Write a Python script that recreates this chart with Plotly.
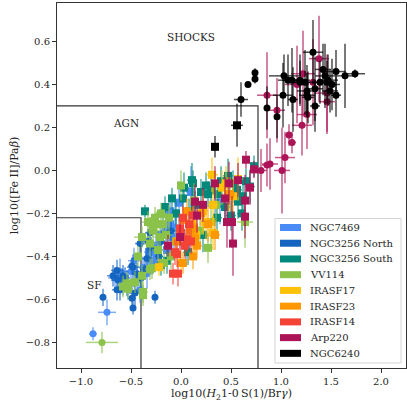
import plotly.graph_objects as go

# ---------------- data: (x, y, xerr, yerr) ----------------
NGC7469_PT = [(-0.88, -0.76, 0.04, 0.03), (-0.74, -0.66, 0.09, 0.06), (-0.61, -0.47, 0.08, 0.06),
              (-0.53, -0.54, 0.07, 0.06), (-0.44, -0.51, 0.06, 0.07), (-0.41, -0.555, 0.05, 0.06),
              (-0.34, -0.48, 0.06, 0.07), (-0.66, -0.50, 0.07, 0.05), (-0.58, -0.52, 0.06, 0.06),
              (-0.50, -0.47, 0.05, 0.05), (-0.30, -0.42, 0.05, 0.06), (-0.38, -0.45, 0.06, 0.05),
              (-0.47, -0.42, 0.06, 0.06)]
NGC7469_SQ = [(-0.28, -0.42, 0.05, 0.06), (-0.24, -0.385, 0.05, 0.06), (-0.14, -0.37, 0.06, 0.06),
              (-0.08, -0.31, 0.05, 0.06), (-0.11, -0.19, 0.06, 0.06), (-0.18, -0.20, 0.05, 0.05),
              (-0.06, -0.20, 0.05, 0.06), (-0.11, -0.25, 0.05, 0.05), (0.34, -0.16, 0.05, 0.10),
              (0.39, -0.15, 0.05, 0.10), (-0.20, -0.30, 0.05, 0.06), (-0.15, -0.28, 0.06, 0.06),
              (-0.05, -0.27, 0.05, 0.08), (0.05, -0.35, 0.05, 0.08), (0.10, -0.10, 0.05, 0.12),
              (-0.02, -0.15, 0.05, 0.10), (-0.25, -0.35, 0.05, 0.06), (-0.32, -0.38, 0.05, 0.06)]
NGC3256N_PT = [(-0.78, -0.59, 0.03, 0.04), (-0.48, -0.64, 0.03, 0.03), (-0.49, -0.445, 0.04, 0.04),
               (-0.68, -0.49, 0.06, 0.05), (-0.63, -0.51, 0.07, 0.05), (-0.58, -0.49, 0.06, 0.05),
               (-0.61, -0.555, 0.06, 0.05), (-0.46, -0.57, 0.06, 0.06), (-0.54, -0.525, 0.07, 0.06),
               (-0.26, -0.59, 0.03, 0.03), (-0.64, -0.465, 0.06, 0.05), (-0.33, -0.33, 0.06, 0.06),
               (-0.48, -0.45, 0.06, 0.06), (-0.34, -0.41, 0.05, 0.05), (-0.56, -0.50, 0.05, 0.05),
               (-0.40, -0.50, 0.05, 0.06), (-0.36, -0.46, 0.05, 0.05), (-0.44, -0.48, 0.05, 0.05),
               (-0.49, -0.595, 0.04, 0.05), (-0.41, -0.34, 0.05, 0.05), (-0.31, -0.29, 0.05, 0.05),
               (-0.20, -0.33, 0.04, 0.05), (-0.10, -0.28, 0.05, 0.06), (-0.30, -0.36, 0.05, 0.05),
               (-0.22, -0.40, 0.04, 0.05), (-0.64, -0.555, 0.05, 0.05)]
NGC3256S_SQ = [(-0.36, -0.19, 0.03, 0.03), (0.11, -0.045, 0.05, 0.08), (0.12, -0.06, 0.04, 0.06),
               (0.47, -0.025, 0.05, 0.08), (0.20, -0.10, 0.04, 0.06), (0.27, -0.11, 0.05, 0.06),
               (0.37, -0.11, 0.05, 0.06), (0.56, -0.09, 0.05, 0.06), (0.69, -0.075, 0.05, 0.08),
               (-0.16, -0.17, 0.04, 0.05), (0.02, -0.13, 0.04, 0.06), (-0.09, -0.13, 0.04, 0.05),
               (0.44, -0.17, 0.05, 0.07), (0.57, -0.145, 0.05, 0.08), (0.61, -0.20, 0.05, 0.08),
               (0.36, -0.22, 0.05, 0.08), (0.22, -0.30, 0.05, 0.08), (0.73, 0.02, 0.04, 0.05),
               (-0.14, -0.42, 0.04, 0.06), (0.07, -0.38, 0.05, 0.06), (0.25, -0.07, 0.04, 0.06),
               (0.52, -0.06, 0.04, 0.06), (0.62, -0.12, 0.04, 0.07), (0.14, -0.16, 0.05, 0.06),
               (-0.05, -0.20, 0.04, 0.06), (0.03, -0.08, 0.05, 0.07), (0.30, -0.09, 0.04, 0.06),
               (0.40, -0.05, 0.05, 0.07), (-0.20, -0.44, 0.04, 0.05), (0.50, -0.21, 0.05, 0.07),
               (0.08, -0.19, 0.04, 0.06), (0.65, -0.05, 0.04, 0.06)]
VV114_PT = [(-0.79, -0.80, 0.16, 0.05)]
VV114_SQ = [(0.00, -0.07, 0.04, 0.07), (-0.24, -0.25, 0.06, 0.06), (-0.18, -0.25, 0.06, 0.06),
            (-0.28, -0.28, 0.06, 0.06), (-0.21, -0.31, 0.06, 0.06), (0.19, -0.28, 0.05, 0.07),
            (0.27, -0.36, 0.05, 0.07), (0.64, -0.24, 0.08, 0.12), (-0.39, -0.31, 0.08, 0.05),
            (-0.28, -0.26, 0.06, 0.05), (-0.31, -0.34, 0.06, 0.06), (-0.23, -0.37, 0.06, 0.06),
            (-0.43, -0.40, 0.04, 0.05), (-0.29, -0.455, 0.05, 0.05), (-0.39, -0.49, 0.04, 0.05),
            (-0.54, -0.525, 0.05, 0.05), (-0.46, -0.52, 0.05, 0.05), (-0.58, -0.54, 0.04, 0.05),
            (-0.53, -0.55, 0.05, 0.05), (-0.38, -0.565, 0.05, 0.05), (-0.38, -0.58, 0.04, 0.05),
            (-0.31, -0.46, 0.05, 0.05), (-0.15, -0.30, 0.06, 0.06), (-0.12, -0.22, 0.06, 0.06),
            (-0.20, -0.20, 0.06, 0.05), (-0.26, -0.22, 0.06, 0.05), (-0.33, -0.24, 0.06, 0.05),
            (-0.10, -0.40, 0.05, 0.06), (-0.17, -0.43, 0.05, 0.05), (0.30, -0.24, 0.05, 0.10),
            (0.35, -0.16, 0.05, 0.08), (-0.05, -0.33, 0.05, 0.06), (0.13, -0.14, 0.05, 0.08)]
IRASF17_SQ = [(0.31, -0.02, 0.06, 0.08), (0.57, -0.04, 0.05, 0.10), (0.41, -0.08, 0.05, 0.08),
              (0.47, -0.11, 0.04, 0.08), (0.32, -0.16, 0.05, 0.10), (0.22, -0.19, 0.05, 0.10),
              (0.12, -0.25, 0.05, 0.08), (0.32, -0.29, 0.04, 0.08), (-0.22, -0.45, 0.03, 0.04),
              (0.00, -0.43, 0.04, 0.06), (0.45, -0.06, 0.05, 0.08), (0.52, -0.12, 0.04, 0.08),
              (0.15, -0.30, 0.04, 0.08), (0.25, -0.24, 0.05, 0.08)]
IRASF23_SQ = [(0.02, -0.23, 0.05, 0.06), (0.09, -0.28, 0.05, 0.07), (0.14, -0.315, 0.05, 0.07),
              (-0.04, -0.33, 0.05, 0.06), (0.34, -0.30, 0.05, 0.07), (0.49, -0.11, 0.05, 0.08),
              (0.16, -0.35, 0.05, 0.06), (0.02, -0.43, 0.04, 0.05), (0.13, -0.27, 0.05, 0.07),
              (0.20, -0.20, 0.05, 0.06), (0.27, -0.25, 0.05, 0.08), (0.06, -0.19, 0.05, 0.06),
              (0.12, -0.40, 0.04, 0.06)]
IRASF14_SQ = [(0.02, -0.22, 0.04, 0.06), (0.12, -0.21, 0.04, 0.06), (-0.01, -0.27, 0.04, 0.06),
              (0.06, -0.32, 0.04, 0.06), (-0.08, -0.48, 0.04, 0.05), (-0.04, -0.39, 0.04, 0.06),
              (-0.06, -0.38, 0.04, 0.06), (0.04, -0.35, 0.04, 0.06), (0.00, -0.29, 0.04, 0.06),
              (-0.03, -0.48, 0.04, 0.06), (0.08, -0.25, 0.04, 0.06), (0.10, -0.33, 0.04, 0.06)]
ARP220_SQ = [(0.65, 0.05, 0.03, 0.04), (0.73, 0.005, 0.03, 0.04), (0.34, -0.06, 0.04, 0.08),
             (0.48, -0.06, 0.04, 0.10), (0.57, -0.045, 0.04, 0.08), (0.69, -0.08, 0.03, 0.08),
             (0.14, -0.145, 0.04, 0.08), (0.22, -0.16, 0.04, 0.08), (0.44, -0.13, 0.04, 0.10),
             (0.64, -0.14, 0.04, 0.12), (0.64, -0.215, 0.04, 0.10), (0.16, -0.21, 0.04, 0.08),
             (0.46, -0.24, 0.04, 0.12), (0.51, -0.24, 0.04, 0.12), (0.52, -0.34, 0.04, 0.15),
             (-0.01, -0.31, 0.04, 0.06), (-0.13, -0.35, 0.03, 0.05)]
ARP220_PT = [(0.80, 0.00, 0.06, 0.10), (0.86, 0.025, 0.05, 0.10), (0.89, 0.03, 0.08, 0.12),
             (1.01, 0.00, 0.08, 0.20), (1.04, 0.06, 0.10, 0.12), (1.08, 0.165, 0.04, 0.05),
             (1.11, 0.13, 0.04, 0.05), (1.21, 0.21, 0.10, 0.14), (1.26, 0.26, 0.10, 0.16),
             (0.86, 0.35, 0.10, 0.20), (0.96, 0.28, 0.08, 0.15), (1.38, 0.52, 0.10, 0.20),
             (1.22, 0.45, 0.12, 0.20), (1.32, 0.41, 0.12, 0.20), (1.46, 0.36, 0.12, 0.18),
             (1.46, 0.32, 0.08, 0.15), (1.16, 0.40, 0.12, 0.18)]
NGC6240_SQ = [(0.56, 0.21, 0.06, 0.10), (0.34, 0.11, 0.03, 0.05)]
NGC6240_PT = [(0.60, 0.33, 0.07, 0.08), (0.74, 0.455, 0.01, 0.02), (0.74, 0.425, 0.01, 0.02),
              (0.67, 0.40, 0.01, 0.01), (0.86, 0.29, 0.03, 0.10), (0.96, 0.25, 0.03, 0.10),
              (1.02, 0.35, 0.10, 0.15), (1.12, 0.33, 0.05, 0.15), (1.32, 0.55, 0.10, 0.15),
              (1.74, 0.45, 0.10, 0.02), (1.64, 0.44, 0.08, 0.15), (1.55, 0.46, 0.10, 0.10),
              (1.03, 0.44, 0.15, 0.10), (1.07, 0.42, 0.10, 0.12), (1.11, 0.42, 0.10, 0.15),
              (1.19, 0.42, 0.10, 0.12), (1.24, 0.41, 0.10, 0.15), (1.42, 0.47, 0.08, 0.12),
              (1.44, 0.44, 0.10, 0.15), (1.47, 0.42, 0.10, 0.12), (1.51, 0.40, 0.08, 0.12),
              (1.34, 0.38, 0.08, 0.15), (1.26, 0.37, 0.10, 0.12), (1.19, 0.41, 0.08, 0.10),
              (1.26, 0.35, 0.08, 0.10), (1.27, 0.34, 0.06, 0.12), (1.34, 0.30, 0.05, 0.12),
              (1.46, 0.41, 0.08, 0.10), (1.49, 0.37, 0.08, 0.10), (1.39, 0.41, 0.08, 0.10),
              (1.55, 0.35, 0.05, 0.10)]

GALAXIES = ["NGC7469", "NGC3256 North", "NGC3256 South", "VV114", "IRASF17",
            "IRASF23", "IRASF14", "Arp220", "NGC6240"]
COLORS = ["#4A8CF7", "#1565C0", "#00897B", "#8BC34A", "#FFC107",
          "#FF9800", "#F44336", "#AD1457", "#000000"]
SQUARES = [NGC7469_SQ, [], NGC3256S_SQ, VV114_SQ, IRASF17_SQ, IRASF23_SQ, IRASF14_SQ, ARP220_SQ, NGC6240_SQ]
POINTS = [NGC7469_PT, NGC3256N_PT, [], VV114_PT, [], [], [], ARP220_PT, NGC6240_PT]

# diagnostic boundaries
SF_X, SF_Y = -0.40, -0.22
AGN_X, AGN_Y = 0.77, 0.30
REGION_LABELS = [("SHOCKS", 0.10, 0.62), ("AGN", -0.55, 0.22), ("SF", -0.87, -0.535)]

X_RANGE = [-1.24, 2.25]
Y_RANGE = [-0.919, 0.779]
FONT = "DejaVu Serif"
TXT = "#262626"

# page geometry (pixels)
W, H = 407, 405
ML, MR, MT, MB = 57, 1, 3, 37
PW, PH = W - ML - MR, H - MT - MB


def px_to_paper(px, py):
    return (px - ML) / PW, (H - MB - py) / PH


def rgba(hexcol, a):
    h = hexcol.lstrip("#")
    return "rgba(%d,%d,%d,%.2f)" % (int(h[0:2], 16), int(h[2:4], 16), int(h[4:6], 16), a)


fig = go.Figure()

# boundary lines
for bx, by in [(SF_X, SF_Y), (AGN_X, AGN_Y)]:
    fig.add_trace(go.Scatter(x=[X_RANGE[0] - 1, bx, bx], y=[by, by, Y_RANGE[0] - 1],
                             mode="lines", line=dict(color="#333333", width=1.2),
                             showlegend=False, hoverinfo="skip"))


def add_set(rows, name, color, symbol, size):
    if not rows:
        return
    xs = [r[0] for r in rows]
    ys = [r[1] for r in rows]
    ex = [r[2] for r in rows]
    ey = [r[3] for r in rows]
    ecol = rgba(color, 0.7)
    fig.add_trace(go.Scatter(
        x=xs, y=ys, mode="markers", name=name, showlegend=False,
        marker=dict(symbol=symbol, size=size, color=color, line=dict(width=0)),
        error_x=dict(type="data", array=ex, color=ecol, thickness=1.5, width=0),
        error_y=dict(type="data", array=ey, color=ecol, thickness=1.5, width=0),
    ))


for name, col, sq, pt in zip(GALAXIES, COLORS, SQUARES, POINTS):
    add_set(pt, name, col, "circle", 7)
    add_set(sq, name, col, "square", 8)

for txt, tx, ty in REGION_LABELS:
    fig.add_annotation(x=tx, y=ty, text=txt, showarrow=False,
                       font=dict(family=FONT, size=10.5, color=TXT))

# legend (box, colour swatches, labels)
shapes = []
bx0, by0 = px_to_paper(275, 363)
bx1, by1 = px_to_paper(401, 218.5)
shapes.append(dict(type="rect", xref="paper", yref="paper", x0=bx0, y0=by0, x1=bx1, y1=by1,
                   line=dict(color="#d5d5d5", width=1), fillcolor="rgba(255,255,255,0.85)",
                   layer="above"))
ROW0, ROWSTEP = 227.5, 15.73
for i, (name, col) in enumerate(zip(GALAXIES, COLORS)):
    cy = ROW0 + i * ROWSTEP
    sx0, sy0 = px_to_paper(280, cy + 3.5)
    sx1, sy1 = px_to_paper(301, cy - 3.5)
    shapes.append(dict(type="rect", xref="paper", yref="paper", x0=sx0, y0=sy0, x1=sx1, y1=sy1,
                       line=dict(width=0), fillcolor=col, layer="above"))
    tx, ty = px_to_paper(308, cy)
    fig.add_annotation(xref="paper", yref="paper", x=tx, y=ty, text=name, showarrow=False,
                       xanchor="left", yanchor="middle",
                       font=dict(family=FONT, size=10, color=TXT))

axis_common = dict(showgrid=False, zeroline=False, showline=True, mirror=True,
                   linecolor="#333333", linewidth=1, ticks="outside", ticklen=4,
                   tickcolor="#333333", tickfont=dict(family=FONT, size=10, color=TXT))

fig.update_layout(
    width=W, height=H,
    margin=dict(l=ML, r=MR, t=MT, b=MB),
    plot_bgcolor="white", paper_bgcolor="white",
    font=dict(family=FONT, size=11, color=TXT),
    shapes=shapes,
    showlegend=False,
    xaxis=dict(range=X_RANGE, tickvals=[-1.0, -0.5, 0.0, 0.5, 1.0, 1.5, 2.0],
               ticktext=["\u22121.0", "\u22120.5", "0.0", "0.5", "1.0", "1.5", "2.0"],
               title=dict(text="log10(<i>H</i><sub>2</sub>1-0\u2009S(1)/Br<i>\u03b3</i>)",
                          font=dict(family=FONT, size=11, color=TXT), standoff=3),
               **axis_common),
    yaxis=dict(range=Y_RANGE, tickvals=[-0.8, -0.6, -0.4, -0.2, 0.0, 0.2, 0.4, 0.6],
               ticktext=["\u22120.8", "\u22120.6", "\u22120.4", "\u22120.2", "0.0", "0.2", "0.4", "0.6"],
               title=dict(text="log10([Fe II]/Pa<i>\u03b2</i>)",
                          font=dict(family=FONT, size=11, color=TXT), standoff=4),
               **axis_common),
)

fig.write_html("out.html", config={"displayModeBar": False},
               post_script="document.body.style.margin='0px';")
